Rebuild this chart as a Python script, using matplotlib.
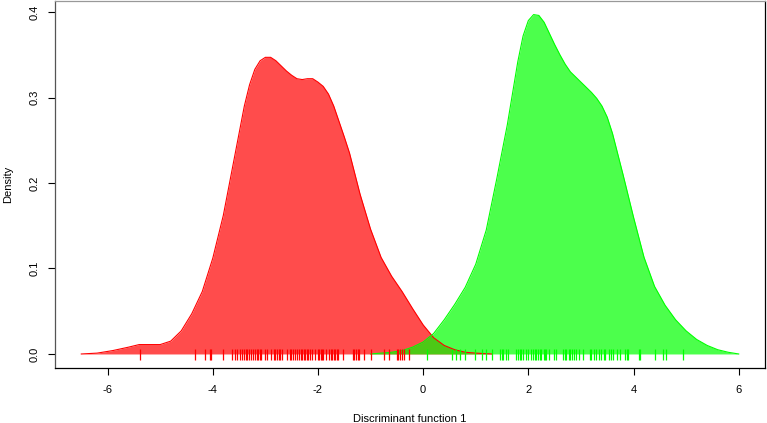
import matplotlib.pyplot as plt
import numpy as np

# density curve of group 1 (red)
red_x = [-6.5, -6.2, -5.9, -5.6, -5.4, -5.2, -5.0, -4.8, -4.6, -4.4, -4.2, -4.0,
         -3.8, -3.6, -3.4, -3.3, -3.2, -3.1, -3.0, -2.9, -2.8, -2.7, -2.6, -2.5,
         -2.4, -2.3, -2.2, -2.1, -2.0, -1.9, -1.8, -1.7, -1.6, -1.5, -1.4, -1.2,
         -1.0, -0.8, -0.6, -0.4, -0.2, 0.0, 0.2, 0.4, 0.6, 0.8, 1.0, 1.3]
red_y = [0.000, 0.001, 0.004, 0.008, 0.011, 0.011, 0.011, 0.015, 0.027, 0.047, 0.073, 0.112,
         0.162, 0.226, 0.290, 0.315, 0.333, 0.343, 0.347, 0.347, 0.343, 0.337, 0.331, 0.326,
         0.322, 0.321, 0.322, 0.322, 0.318, 0.313, 0.304, 0.290, 0.272, 0.254, 0.235, 0.187,
         0.146, 0.113, 0.091, 0.073, 0.053, 0.034, 0.019, 0.010, 0.005, 0.002, 0.001, 0.000]

# density curve of group 2 (green)
green_x = [-1.0, -0.8, -0.6, -0.4, -0.2, 0.0, 0.2, 0.4, 0.6, 0.8, 1.0, 1.2,
           1.4, 1.6, 1.7, 1.8, 1.9, 2.0, 2.1, 2.2, 2.3, 2.4, 2.5, 2.6,
           2.7, 2.8, 3.0, 3.2, 3.3, 3.4, 3.5, 3.6, 3.8, 4.0, 4.2, 4.4,
           4.6, 4.8, 5.0, 5.2, 5.4, 5.6, 5.8, 6.0]
green_y = [0.000, 0.001, 0.002, 0.004, 0.008, 0.014, 0.024, 0.040, 0.058, 0.078, 0.105, 0.145,
           0.205, 0.268, 0.305, 0.342, 0.372, 0.390, 0.397, 0.396, 0.388, 0.375, 0.362, 0.350,
           0.339, 0.330, 0.318, 0.306, 0.299, 0.290, 0.277, 0.258, 0.210, 0.160, 0.113, 0.079,
           0.057, 0.040, 0.027, 0.017, 0.010, 0.005, 0.002, 0.000]

# rug (individual scores)
red_rug = [-5.39, -4.33, -4.14, -4.06, -4.03, -3.80, -3.64, -3.58, -3.53, -3.49, -3.44,
           -3.41, -3.37, -3.35, -3.32, -3.27, -3.24, -3.20, -3.16, -3.14, -3.11, -3.08,
           -3.00, -2.96, -2.89, -2.84, -2.82, -2.78, -2.75, -2.72, -2.69, -2.59, -2.54,
           -2.51, -2.48, -2.44, -2.39, -2.36, -2.33, -2.30, -2.27, -2.25, -2.21, -2.18,
           -2.15, -2.11, -2.06, -1.99, -1.98, -1.95, -1.92, -1.90, -1.85, -1.79, -1.76,
           -1.73, -1.70, -1.67, -1.64, -1.61, -1.52, -1.34, -1.32, -1.28, -1.24, -1.22,
           -1.12, -0.99, -0.74, -0.65, -0.50, -0.47, -0.44, -0.40, -0.36, -0.27]
green_rug = [0.08, 0.54, 0.63, 0.70, 0.79, 0.98, 1.11, 1.20, 1.30, 1.46, 1.49, 1.52,
             1.57, 1.61, 1.77, 1.80, 1.84, 1.87, 1.90, 1.95, 1.99, 2.06, 2.09, 2.12,
             2.15, 2.19, 2.23, 2.25, 2.29, 2.32, 2.34, 2.39, 2.48, 2.52, 2.66, 2.70,
             2.71, 2.77, 2.80, 2.83, 2.86, 2.90, 2.96, 3.04, 3.18, 3.20, 3.25, 3.29,
             3.34, 3.38, 3.44, 3.46, 3.53, 3.57, 3.61, 3.68, 3.75, 3.83, 3.87, 3.90,
             4.10, 4.12, 4.41, 4.57, 4.61, 4.95]

xticks = [-6, -4, -2, 0, 2, 4, 6]
yticks = [0.0, 0.1, 0.2, 0.3, 0.4]

plt.rcParams['font.family'] = ['Liberation Sans', 'DejaVu Sans']

fig = plt.figure(figsize=(7.67, 4.23), dpi=100)
ax = fig.add_axes([55 / 767, 55 / 423, 710 / 767, 367 / 423])

ax.fill_between(red_x, red_y, 0, color='red', alpha=0.7, linewidth=0)
ax.plot(red_x, red_y, color='red', lw=0.8)
ax.fill_between(green_x, green_y, 0, color='lime', alpha=0.7, linewidth=0)
ax.plot(green_x, green_y, color='lime', lw=0.8)

ax.vlines(red_rug, -0.0072, 0.0058, color='red', lw=0.9)
ax.vlines(green_rug, -0.0072, 0.0058, color='lime', lw=0.9)

ax.set_xlim(-7.0, 6.5)
ax.set_ylim(-0.0164, 0.4129)
ax.set_xticks(xticks)
ax.set_xticklabels([str(t) for t in xticks])
ax.set_yticks(yticks)
ax.set_yticklabels(['%.1f' % t for t in yticks], rotation=90, va='center')
ax.tick_params(axis='both', length=5, width=0.8, labelsize=8, pad=7)
ax.tick_params(axis='y', pad=6)

ax.spines['top'].set_color('#999999')
ax.spines['left'].set_color('#555555')
for s in ax.spines.values():
    s.set_linewidth(0.9)

ax.set_xlabel('Discriminant function 1', fontsize=8, labelpad=14)
ax.set_ylabel('Density', fontsize=8, labelpad=12)

fig.savefig('out.png', dpi=100)
